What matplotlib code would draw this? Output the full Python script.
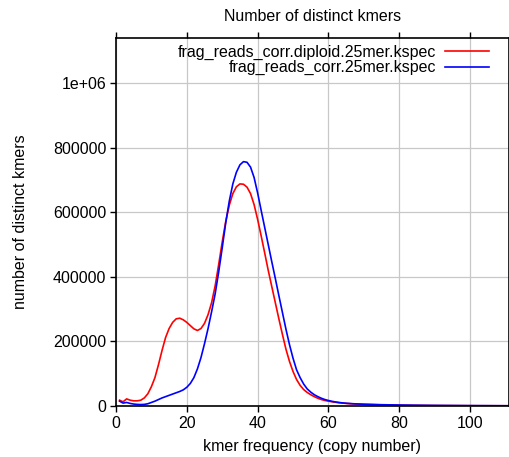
import matplotlib
matplotlib.use("Agg")
import matplotlib.pyplot as plt

plt.rcParams['font.family'] = ['Liberation Sans', 'DejaVu Sans']

# kmer frequency (copy number)
freq = [1, 2, 3, 4, 5, 6, 7, 8, 9, 10,
        11, 12, 13, 14, 15, 16, 17, 18, 19, 20,
        21, 22, 23, 24, 25, 26, 27, 28, 29, 30,
        31, 32, 33, 34, 35, 36, 37, 38, 39, 40,
        41, 42, 43, 44, 45, 46, 47, 48, 49, 50,
        51, 52, 53, 54, 55, 56, 57, 58, 59, 60,
        61, 62, 63, 64, 65, 67, 70, 75, 80, 85,
        90, 100, 110, 115]

# frag_reads_corr.diploid.25mer.kspec
diploid = [18000, 13000, 22000, 18000, 16000, 16000, 18000, 25000, 38000, 60000,
           88000, 128000, 172000, 212000, 240000, 259000, 270000, 272000, 267000, 259000,
           249000, 239000, 234000, 240000, 256000, 283000, 320000, 372000, 438000, 508000,
           572000, 622000, 658000, 679000, 688000, 687000, 678000, 658000, 624000, 578000,
           527000, 474000, 420000, 370000, 320000, 270000, 222000, 176000, 138000, 107000,
           82000, 64000, 51000, 42000, 35000, 29000, 24000, 20000, 17000, 15000,
           13000, 11500, 10000, 9000, 8000, 6500, 5000, 3500, 2500, 2000,
           1500, 1000, 700, 600]

# frag_reads_corr.25mer.kspec
haploid = [15000, 9000, 11000, 8000, 6000, 5000, 4500, 5000, 7000, 11000,
           15000, 20000, 25000, 29000, 33000, 37000, 41000, 45000, 50000, 58000,
           70000, 88000, 115000, 150000, 193000, 240000, 292000, 347000, 415000, 490000,
           568000, 635000, 688000, 724000, 747000, 757000, 755000, 740000, 708000, 660000,
           606000, 553000, 500000, 447000, 395000, 342000, 290000, 238000, 190000, 148000,
           112000, 88000, 68000, 53000, 43000, 35000, 29000, 24000, 20000, 17000,
           14500, 12500, 11000, 9500, 8500, 7000, 5500, 4000, 3000, 2300,
           1800, 1200, 800, 700]

labels = ["frag_reads_corr.diploid.25mer.kspec", "frag_reads_corr.25mer.kspec"]
xticks = [0, 20, 40, 60, 80, 100]
yticks = [0, 200000, 400000, 600000, 800000, 1000000]
ytick_labels = ["0", "200000", "400000", "600000", "800000", "1e+06"]

fig = plt.figure(figsize=(5.10, 4.57), dpi=100)
ax = fig.add_axes([116/510, 1-406/457, (509-116)/510, (406-38)/457])

ax.plot(freq, diploid, color='#ff0000', lw=1.2, label=labels[0])
ax.plot(freq, haploid, color='#0000ff', lw=1.2, label=labels[1])

ax.set_xlim(0, 111)
ax.set_ylim(0, 1.14e6)
ax.set_xticks(xticks)
ax.set_yticks(yticks)
ax.set_yticklabels(ytick_labels)
ax.grid(True, color='#c8c8c8', lw=0.9)
ax.set_axisbelow(True)

ax.tick_params(direction='out', length=4, width=1, labelsize=11.5,
               top=True, right=True, labeltop=False, labelright=False, pad=3)
for s in ax.spines.values():
    s.set_linewidth(1.2)

ax.set_title("Number of distinct kmers", fontsize=11.5, pad=12)
ax.set_xlabel("kmer frequency (copy number)", fontsize=11.5, labelpad=6)
ax.set_ylabel("number of distinct kmers", fontsize=11.5, labelpad=18)

ax.legend(loc='upper right', frameon=False, markerfirst=False, fontsize=11.5,
          handlelength=2.75, handletextpad=0.55, labelspacing=0.05,
          borderaxespad=0.0, bbox_to_anchor=(0.966, 1.0))

fig.savefig("out.png", dpi=100)
